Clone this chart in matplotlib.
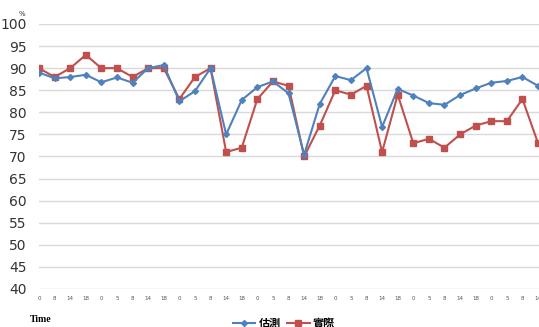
import matplotlib
matplotlib.use("Agg")
import matplotlib.pyplot as plt
from matplotlib.lines import Line2D

hours = ["0", "8", "14", "18",
         "0", "5", "8", "14", "18",
         "0", "5", "8", "14", "18",
         "0", "5", "8", "14", "18",
         "0", "5", "8", "14", "18",
         "0", "5", "8", "14", "18",
         "0", "5", "8", "14"]
estimate = [89, 87.7, 88, 88.5, 86.8, 87.9, 86.7, 90, 90.7, 82.5, 84.8, 90,
            75, 82.8, 85.7, 87, 84.3, 70.4, 81.9, 88.2, 87.3, 90, 76.7,
            85.3, 83.8, 82.1, 81.7, 83.9, 85.4, 86.7, 87.1, 88, 86]
actual = [90, 88, 90, 93, 90, 90, 88, 90, 90, 83, 88, 90,
          71, 72, 83, 87, 86, 70, 77, 85, 84, 86, 71,
          84, 73, 74, 72, 75, 77, 78, 78, 83, 73]
yticks = [40, 45, 50, 55, 60, 65, 70, 75, 80, 85, 90, 95, 100]

W, H = 539, 327
fig = plt.figure(figsize=(W / 100, H / 100), dpi=100)
left, right, top, bottom = 39, 539, 24, 289
ax = fig.add_axes([left / W, 1 - bottom / H, (right - left) / W, (bottom - top) / H])

x = list(range(len(hours)))
blue = "#4F81BD"
red = "#C0504D"
ax.plot(x, estimate, color=blue, lw=1.5, marker="D", ms=3, zorder=3)
ax.plot(x, actual, color=red, lw=1.5, marker="s", ms=5, zorder=2)

ax.set_xlim(0, 32.06)
ax.set_ylim(40, 100)
ax.set_yticks(yticks)
ax.set_xticks(x)
ax.set_xticklabels(hours, fontsize=4, color="#555555")
ax.tick_params(axis="x", length=0, pad=5)
ax.tick_params(axis="y", length=0, pad=9, labelsize=10, labelcolor="#333333")
ax.grid(axis="y", color="#D9D9D9", lw=1)
ax.set_axisbelow(True)
for s in ax.spines.values():
    s.set_visible(False)

fig.text(22 / W, 1 - 14 / H, "%", fontsize=5, ha="center", va="center", color="#333333")
fig.text(30 / W, 1 - 320 / H, "Time", fontsize=7, fontweight="bold",
         family="Liberation Serif", ha="left", va="center")

handles = [Line2D([], [], color=blue, lw=1.5, marker="D", ms=3),
           Line2D([], [], color=red, lw=1.5, marker="s", ms=5)]
leg = fig.legend(handles, ["估測", "實際"], loc="center", bbox_to_anchor=(284 / W, 1 - 323 / H),
                 ncol=2, frameon=False, handlelength=2, handletextpad=0.3, columnspacing=0.6,
                 prop={"family": ["Noto Sans CJK TC", "DejaVu Sans"], "weight": "bold", "size": 8})

fig.savefig("out.png", dpi=100)
